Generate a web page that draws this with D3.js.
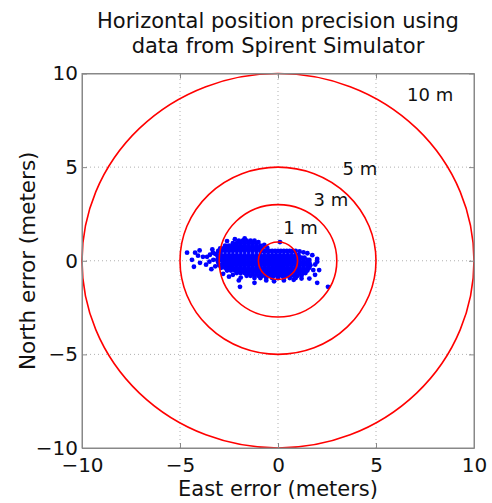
<!DOCTYPE html>
<html>
<head>
<meta charset="utf-8">
<script src="https://cdn.jsdelivr.net/npm/d3@7"></script>
<style>
  body { margin: 0; background: #fff; }
  text { font-family: "DejaVu Sans", sans-serif; fill: #111; }
</style>
</head>
<body>
<svg id="chart"></svg>
<script>
const title = ["Horizontal position precision using", "data from Spirent Simulator"];
const xLabel = "East error (meters)";
const yLabel = "North error (meters)";

const eastTicks = [-10, -5, 0, 5, 10];
const northTicks = [-10, -5, 0, 5, 10];

const ringRadii = [1, 3, 5, 10];
const ringLabels = ["1 m", "3 m", "5 m", "10 m"];
const ringLabelEast = [1.15, 2.7, 4.18, 7.76];
const ringLabelNorth = [1.79, 3.26, 4.94, 8.87];

// dense core of the fixes, one row of east errors per north error
const coreNorth = [1.08, 0.94, 0.8, 0.66, 0.52, 0.3, 0.17, 0.04, -0.1, -0.24, -0.38, -0.52, -0.66, -0.8, -0.92];
const coreEast = [
    [-2.0, -1.8, -1.6, -1.4, -1.2],
    [-2.3, -2.1, -1.9, -1.7, -1.5, -1.3, -1.1],
    [-2.7, -2.5, -2.3, -2.1, -1.9, -1.7, -1.5, -1.3, -1.1, -0.9],
    [-2.95, -2.8, -2.6, -2.4, -2.2, -2.0, -1.8, -1.6, -1.4, -1.2, -1.0, -0.8],
    [-3.05, -2.9, -2.7, -2.5, -2.3, -2.1, -1.9, -1.7, -1.5, -1.3, -1.1, -0.9, -0.75, -0.6, -0.45, -0.3, -0.15, 0.0, 0.15, 0.3, 0.45, 0.6, 0.75, 0.9],
    [-3.1, -2.9, -2.7, -2.5, -2.3, -2.1, -1.9, -1.7, -1.5, -1.3, -1.1, -0.9, -0.7, -0.5, -0.3, -0.1, 0.1, 0.3, 0.5, 0.7, 0.9, 1.05],
    [-3.05, -3.0, -2.8, -2.6, -2.4, -2.2, -2.0, -1.8, -1.6, -1.4, -1.2, -1.0, -0.8, -0.6, -0.4, -0.2, 0.0, 0.2, 0.4, 0.6, 0.8, 1.0, 1.2, 1.35],
    [-3.1, -2.9, -2.7, -2.5, -2.3, -2.1, -1.9, -1.7, -1.5, -1.3, -1.1, -0.9, -0.7, -0.5, -0.3, -0.1, 0.1, 0.3, 0.5, 0.7, 0.9, 1.1, 1.3, 1.5, 1.6],
    [-3.05, -2.8, -2.6, -2.4, -2.2, -2.0, -1.8, -1.6, -1.4, -1.2, -1.0, -0.8, -0.6, -0.4, -0.2, 0.0, 0.2, 0.4, 0.6, 0.8, 1.0, 1.2, 1.4, 1.6],
    [-3.0, -2.9, -2.7, -2.5, -2.3, -2.1, -1.9, -1.7, -1.5, -1.3, -1.1, -0.9, -0.7, -0.5, -0.3, -0.1, 0.1, 0.3, 0.5, 0.7, 0.9, 1.1, 1.3, 1.5, 1.65],
    [-2.9, -2.7, -2.5, -2.3, -2.1, -1.9, -1.7, -1.5, -1.3, -1.1, -0.9, -0.7, -0.5, -0.3, -0.1, 0.1, 0.3, 0.5, 0.7, 0.9, 1.1, 1.3, 1.5, 1.6],
    [-2.6, -2.4, -2.2, -2.0, -1.8, -1.6, -1.4, -1.2, -1.0, -0.8, -0.6, -0.4, -0.2, 0.0, 0.2, 0.4, 0.6, 0.8, 1.0, 1.2, 1.4, 1.5],
    [-2.1, -1.9, -1.7, -1.5, -1.3, -1.1, -0.9, -0.7, -0.5, -0.3, -0.1, 0.1, 0.3, 0.5, 0.7, 0.9, 1.1, 1.3, 1.4],
    [-1.6, -1.4, -1.2, -1.0, -0.8, -0.6, -0.4, -0.2, 0.0, 0.2, 0.4, 0.6, 0.8, 1.0, 1.2],
    [-1.2, -0.9, -0.6, -0.3, 0.0, 0.3, 0.6, 0.9]
];

// scattered fixes around the core [east, north]
const strayFixes = [
    [-4.64, 0.43], [-4.23, 0.43], [-4.08, 0.27], [-4.29, -0.32], [-3.83, 0.21], [-3.47, 0.32],
    [-3.32, 0.43], [-3.67, -0.21], [-4.39, 0.05], [-3.98, -0.11], [-3.62, 0.21], [-3.21, 0.37],
    [-4.0, 0.55], [-3.5, -0.05], [-3.35, 0.6], [-3.4, -0.45], [-3.3, 0.05], [-3.2, -0.3],
    [-2.6, 1.05], [-2.2, 1.15], [-1.7, 1.2], [-1.0, 1.0], [0.1, 1.0], [-0.55, 0.7], [-0.7, 0.85],
    [-2.8, -0.7], [-2.5, -0.85], [-2.3, -0.75], [-1.9, -0.9], [-2.0, -1.05],
    [-1.94, -1.39], [-1.2, -1.18], [-0.6, -1.05], [-0.2, -1.1], [0.3, -1.05], [0.8, -1.02], [1.2, -0.95],
    [2.55, -1.39], [2.0, -1.18], [1.89, -0.75], [1.9, -0.2], [2.0, 0.1], [1.75, 0.3], [1.5, 0.4], [2.1, -0.5],
    [1.8, -0.5], [2.0, -0.05], [1.6, -0.95], [1.3, 0.45], [1.1, 0.5]
];

const width = 492;
const height = 503;
const margin = { top: 73.5, right: 18, bottom: 55, left: 82 };

const svg = d3.select("#chart")
    .attr("width", width)
    .attr("height", height);

svg.append("rect")
    .attr("width", width)
    .attr("height", height)
    .attr("fill", "#fff");

const xScale = d3.scaleLinear()
    .domain([-10, 10])
    .range([margin.left, width - margin.right]);

const yScale = d3.scaleLinear()
    .domain([-10, 10])
    .range([height - margin.bottom, margin.top]);

const fixes = [];
coreNorth.forEach((n, i) => coreEast[i].forEach(e => fixes.push([e, n])));
strayFixes.forEach(d => fixes.push(d));

// dotted grid
const grid = svg.append("g");
grid.selectAll(".vgrid")
    .data(eastTicks.slice(1, -1))
    .enter()
    .append("line")
    .attr("x1", d => xScale(d))
    .attr("x2", d => xScale(d))
    .attr("y1", yScale(-10))
    .attr("y2", yScale(10))
    .attr("stroke", "#b0b0b0")
    .attr("stroke-dasharray", "1,3");
grid.selectAll(".hgrid")
    .data(northTicks.slice(1, -1))
    .enter()
    .append("line")
    .attr("y1", d => yScale(d))
    .attr("y2", d => yScale(d))
    .attr("x1", xScale(-10))
    .attr("x2", xScale(10))
    .attr("stroke", "#b0b0b0")
    .attr("stroke-dasharray", "1,3");

// position fixes
svg.append("g")
    .selectAll("circle")
    .data(fixes)
    .enter()
    .append("circle")
    .attr("cx", d => xScale(d[0]))
    .attr("cy", d => yScale(d[1]))
    .attr("r", 2.4)
    .attr("fill", "#0000ff");

// precision rings
svg.append("g")
    .selectAll("ellipse")
    .data(ringRadii)
    .enter()
    .append("ellipse")
    .attr("cx", xScale(0))
    .attr("cy", yScale(0))
    .attr("rx", d => xScale(d) - xScale(0))
    .attr("ry", d => yScale(0) - yScale(d))
    .attr("fill", "none")
    .attr("stroke", "#ff0000")
    .attr("stroke-width", 1.6);

svg.append("g")
    .selectAll("text")
    .data(ringLabels)
    .enter()
    .append("text")
    .attr("x", (d, i) => xScale(ringLabelEast[i]))
    .attr("y", (d, i) => yScale(ringLabelNorth[i]))
    .attr("text-anchor", "middle")
    .attr("dy", "0.36em")
    .attr("font-size", 18)
    .text(d => d);

// axes, MATLAB box with inward ticks
const frame = svg.append("g");
frame.append("rect")
    .attr("x", xScale(-10))
    .attr("y", yScale(10))
    .attr("width", xScale(10) - xScale(-10))
    .attr("height", yScale(-10) - yScale(10))
    .attr("fill", "none")
    .attr("stroke", "#888");

const xAxis = d3.axisBottom(xScale)
    .tickValues(eastTicks)
    .tickSizeInner(-5)
    .tickSizeOuter(0)
    .tickPadding(10)
    .tickFormat(d3.format("d"));

const yAxis = d3.axisLeft(yScale)
    .tickValues(northTicks)
    .tickSizeInner(-5)
    .tickSizeOuter(0)
    .tickPadding(4)
    .tickFormat(d3.format("d"));

svg.append("g")
    .attr("transform", `translate(0, ${yScale(-10)})`)
    .call(xAxis);
svg.append("g")
    .attr("transform", `translate(${xScale(-10)}, 0)`)
    .call(yAxis);

svg.append("g")
    .attr("transform", `translate(0, ${yScale(10)})`)
    .call(d3.axisTop(xScale).tickValues(eastTicks).tickSizeInner(-5).tickSizeOuter(0).tickFormat(""));
svg.append("g")
    .attr("transform", `translate(${xScale(10)}, 0)`)
    .call(d3.axisRight(yScale).tickValues(northTicks).tickSizeInner(-5).tickSizeOuter(0).tickFormat(""));

svg.selectAll(".domain").attr("stroke", "#888");
svg.selectAll(".tick line").attr("stroke", "#888");
svg.selectAll(".tick text")
    .attr("font-size", 20)
    .attr("font-family", "DejaVu Sans, sans-serif")
    .attr("fill", "#111");

svg.append("text")
    .attr("x", xScale(0))
    .attr("y", 496)
    .attr("text-anchor", "middle")
    .attr("font-size", 21)
    .text(xLabel);

svg.append("text")
    .attr("transform", `translate(35, ${yScale(0)}) rotate(-90)`)
    .attr("text-anchor", "middle")
    .attr("font-size", 21.5)
    .text(yLabel);

svg.append("g")
    .selectAll("text")
    .data(title)
    .enter()
    .append("text")
    .attr("x", xScale(0))
    .attr("y", (d, i) => 27.5 + i * 25.5)
    .attr("text-anchor", "middle")
    .attr("font-size", 21)
    .text(d => d);
</script>
</body>
</html>
